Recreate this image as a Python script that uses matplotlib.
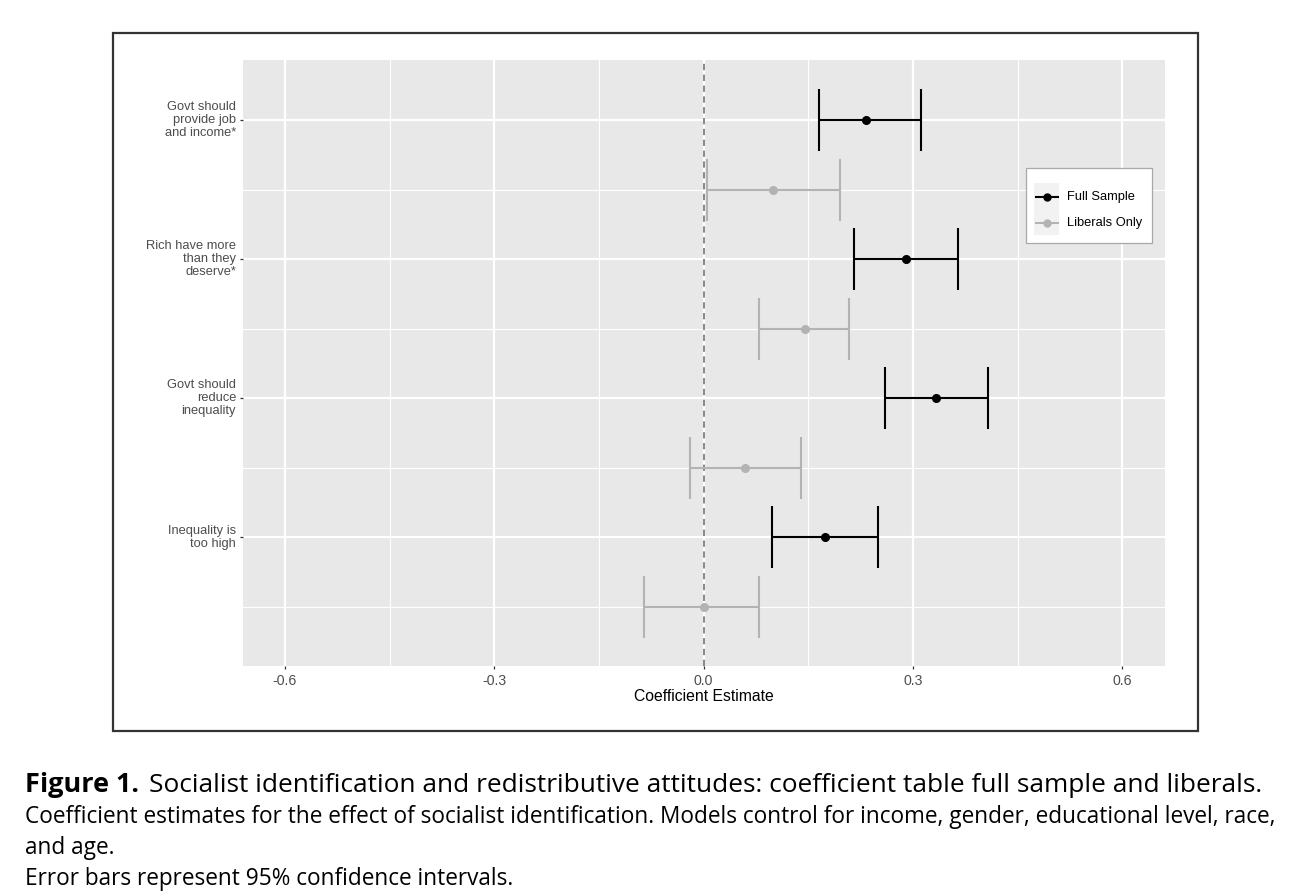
import matplotlib
matplotlib.use("Agg")
import matplotlib.pyplot as plt
from matplotlib.lines import Line2D
from matplotlib.patches import Rectangle

# data
outcomes = ["Govt should\nprovide job\nand income*",
            "Rich have more\nthan they\ndeserve*",
            "Govt should\nreduce\ninequality",
            "Inequality is\ntoo high"]
full_est = [0.233, 0.290, 0.333, 0.174]
full_lo = [0.165, 0.215, 0.260, 0.098]
full_hi = [0.312, 0.365, 0.407, 0.250]
lib_est = [0.099, 0.145, 0.059, 0.000]
lib_lo = [0.005, 0.080, -0.019, -0.086]
lib_hi = [0.195, 0.208, 0.140, 0.080]
x_ticks = [-0.6, -0.3, 0.0, 0.3, 0.6]
x_minor = [-0.45, -0.15, 0.15, 0.45]
series = ['Full Sample', 'Liberals Only']
colors = ['black', '#b3b3b3']

full_pos = [8, 6, 4, 2]
lib_pos = [7, 5, 3, 1]

plt.rcParams['font.family'] = ['Liberation Sans', 'DejaVu Sans']

W, H = 1299, 892
fig = plt.figure(figsize=(W/100, H/100), dpi=100)
ax = fig.add_axes([243/W, 1-666/H, (1165-243)/W, (666-60)/H])

def axpt(px, py):
    # pixel position in the image -> axes fraction
    return (px - 243) / 922, 1 - (py - 60) / 606

ax.set_facecolor('#e8e8e8')
for s in ax.spines.values():
    s.set_visible(False)

ax.set_xlim(-0.66, 0.661)
ax.set_ylim(0.152, 8.863)

# grid
for x in x_ticks:
    ax.axvline(x, color='white', lw=1.6, zorder=0)
for x in x_minor:
    ax.axvline(x, color='white', lw=0.8, zorder=0)
for y in full_pos:
    ax.axhline(y, color='white', lw=1.6, zorder=0)
for y in lib_pos:
    ax.axhline(y, color='white', lw=0.8, zorder=0)

ax.axvline(0, color='#7f7f7f', lw=1.3, ls=(0, (3.5, 2.5)), zorder=1)

cap = 0.445

def draw(pos, est, lo, hi, color):
    ax.hlines(pos, lo, hi, color=color, lw=1.5, zorder=2)
    for p, a, b in zip(pos, lo, hi):
        ax.vlines([a, b], p - cap, p + cap, color=color, lw=1.5, zorder=2)
    ax.plot(est, pos, 'o', color=color, ms=5.5, zorder=3)

draw(lib_pos, lib_est, lib_lo, lib_hi, colors[1])
draw(full_pos, full_est, full_lo, full_hi, colors[0])

ax.set_xticks(x_ticks)
ax.set_xticklabels(['-0.6', '-0.3', '0.0', '0.3', '0.6'])
ax.set_yticks(full_pos)
ax.set_yticklabels(outcomes, ha='right', va='center', linespacing=1.12)
ax.tick_params(axis='both', length=2.5, width=0.9, color='#333333',
               labelcolor='#4d4d4d', labelsize=9.3, pad=2.5)
ax.tick_params(axis='x', labelsize=10.2, pad=3)
ax.set_xlabel('Coefficient Estimate', fontsize=11.3, color='black', labelpad=1)

# legend box (ggplot style, key with grey background)
x0, y0 = axpt(1026, 243)
x1, y1 = axpt(1152, 168)
ax.add_patch(Rectangle((x0, y0), x1 - x0, y1 - y0, transform=ax.transAxes,
                       facecolor='white', edgecolor='#a8a8a8', lw=0.9, zorder=5))
k0, ky0 = axpt(1034, 235)
k1, ky1 = axpt(1059, 183)
ax.add_patch(Rectangle((k0, ky0), k1 - k0, ky1 - ky0, transform=ax.transAxes,
                       facecolor='#f2f2f2', edgecolor='none', zorder=6))
for name, col, py in zip(series, colors, [197, 223]):
    la, yy = axpt(1036, py)
    lb, _ = axpt(1058, py)
    ax.add_line(Line2D([la, lb], [yy, yy], transform=ax.transAxes, color=col,
                       lw=1.5, zorder=7))
    mx, _ = axpt(1047, py)
    ax.add_line(Line2D([mx], [yy], transform=ax.transAxes, color=col,
                       marker='o', ms=5, zorder=8))
    tx, _ = axpt(1067, py)
    ax.text(tx, yy, name, transform=ax.transAxes, fontsize=9.3, va='center',
            ha='left', color='black', zorder=8)

# outer frame around the plot
fig.patches.append(Rectangle((113/W, 1-731/H), (1198-113)/W, (731-33)/H,
                             transform=fig.transFigure, fill=False,
                             edgecolor='#333333', lw=1.6))

# caption
cfont = ['Open Sans', 'DejaVu Sans']
t1 = fig.text(25/W, 1-792/H, 'Figure 1.', fontsize=19.5, weight='bold',
              family=cfont, color='black')
fig.add_artist(plt.Annotation(
    'Socialist identification and redistributive attitudes: '
    'coefficient table full sample and liberals.',
    xy=(1, 0), xycoords=t1, xytext=(10, 0), textcoords='offset pixels',
    va='bottom', fontsize=18.9, family=cfont))
lines = ['Coefficient estimates for the effect of socialist identification. '
         'Models control for income, gender, educational level, race,',
         'and age.',
         'Error bars represent 95% confidence intervals.']
for i, ln in enumerate(lines):
    fig.text(25/W, 1-(823 + 31*i)/H, ln, fontsize=16.3, family=cfont,
             color='black')

fig.savefig('out.png', dpi=100)
